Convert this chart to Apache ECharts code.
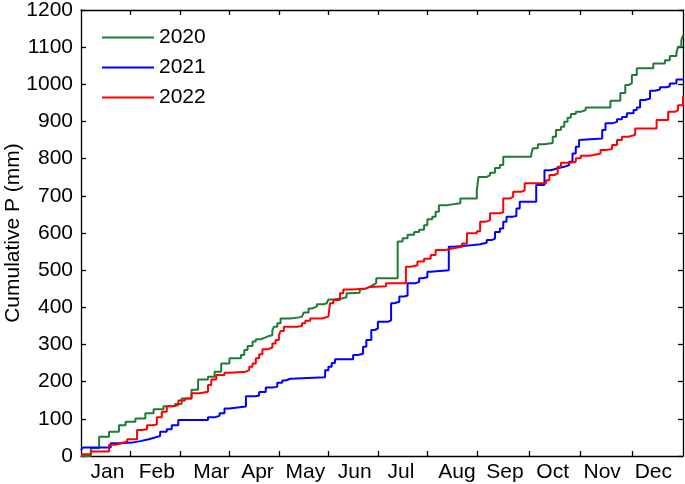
<!DOCTYPE html>
<html>
<head>
<meta charset="utf-8">
<script src="https://cdn.jsdelivr.net/npm/echarts@6/dist/echarts.min.js"></script>
<style>
  html, body { margin: 0; padding: 0; background: #fff; }
  #chart { width: 685px; height: 484px; }
</style>
</head>
<body>
<div id="chart"></div>
<script>
// cumulative precipitation, [day of year, mm]
var p2020 = [[0,0],[6,21],[11,52],[17,65],[23,83],[27,92],[33,101],[39,115],[44,126],[50,134],[57,140],[61,155],[67,178],[71,206],[77,213],[81,227],[85,249],[90,263],
  [97,272],[99,285],[101,296],[104,308],[106,314],[109,319],[112,323],[114,325],[116,337],[117,348],[119,357],[121,370],[127,373],[132,375],[134,379],[135,386],[138,397],[140,402],[143,408],[147,411],[149,413],[150,421],[153,424],[158,427],[161,438],[163,439],[169,447],[170,451],[173,455],[175,460],[177,465],[179,478],
  [192,577],[195,586],[198,595],[202,603],[205,609],[208,621],[210,637],[213,644],[215,657],[217,675],[222,680],[230,693],[240,716],[241,751],[246,756],[248,762],[251,775],[254,783],[256,805],
  [273,812],[274,828],[277,839],[281,842],[286,859],[288,877],[291,886],[293,899],[295,910],[297,920],[300,926],[303,931],[306,938],[321,956],[327,977],[330,998],[332,1003],[334,1025],[337,1043],[347,1056],[354,1065],[357,1076],[361,1085],[362,1101],[364,1119],[365,1132]];

var p2021 = [[0,16],[1,23],[18,34],[24,36],[31,40],[36,45],[41,50],[45,54],[48,65],[52,72],[55,83],[59,97],[77,104],[81,108],[84,115],[87,128],[90,133],
  [100,161],[106,163],[108,172],[112,184],[116,186],[119,197],[122,203],[124,208],[127,212],[148,231],[150,240],[152,250],[154,260],[165,272],[168,275],[171,294],[173,312],[176,339],[178,343],[180,361],
  [186,365],[188,411],[190,415],[193,429],[196,432],[198,465],[203,468],[205,478],[207,481],[210,496],[212,500],[223,563],[226,568],[238,570],[242,574],[246,581],[249,585],[251,603],[254,612],[256,630],[258,644],[262,646],[264,666],[266,684],
  [276,729],[281,769],[285,774],[289,778],[293,783],[296,792],[298,814],[300,832],[302,850],[303,854],[316,877],[318,895],[322,899],[325,906],[328,912],[331,922],[335,931],[337,938],[339,958],[342,962],[345,983],[348,986],[351,992],[355,995],[357,1002],[361,1013],[365,1014]];

var p2022 = [[0,5],[6,12],[17,30],[21,35],[25,39],[28,45],[34,70],[37,72],[40,83],[43,85],[46,104],[49,119],[52,134],[56,137],[59,149],[63,155],[67,169],[72,173],[77,191],[79,206],[82,218],[87,224],[90,227],
  [100,231],[102,240],[104,249],[106,263],[108,274],[110,287],[113,292],[116,303],[118,312],[120,325],[121,336],[123,348],[131,350],[134,357],[136,364],[139,370],[146,375],[150,378],[151,411],[153,420],[157,438],[159,448],[165,451],[173,455],[175,457],
  [185,465],[197,509],[200,513],[204,523],[208,531],[212,541],[215,554],[221,558],[225,563],[231,572],[234,599],[240,605],[242,630],[245,634],[248,653],[254,656],[256,693],[260,697],[262,711],[267,715],[269,734],
  [282,742],[284,756],[287,760],[289,778],[291,789],[296,792],[300,801],[303,808],[308,810],[311,814],[315,823],[318,826],[322,837],[325,850],[328,859],[332,864],[336,881],[349,904],[356,926],[360,930],[362,944],[365,967]];

var months = ['Jan','Feb','Mar','Apr','May','Jun','Jul','Aug','Sep','Oct','Nov','Dec'];
var monthLabelDays = [16,46,79,107,136,166,194,228,257,286,316,347];
var monthTickDays = [30,60,90,120,150,180,210,240,272,303,334];

var mychart = echarts.init(document.getElementById('chart'));
var axisCol = '#000';
var font = 'Liberation Sans';

function frameAxis(extra) {
  var a = {
    axisLine: { show: true, onZero: false, lineStyle: { color: axisCol, width: 1.3 } },
    axisTick: { show: true, inside: true, length: 5, lineStyle: { color: axisCol, width: 1.3 } },
    splitLine: { show: false }
  };
  for (var k in extra) {
    if (a[k]) { for (var j in extra[k]) a[k][j] = extra[k][j]; }
    else a[k] = extra[k];
  }
  return a;
}

var option = {
  animation: false,
  grid: { left: 81, right: 2, top: 10, bottom: 28, outerBoundsMode: 'none', containLabel: false },
  legend: {
    orient: 'vertical',
    left: 97, top: 22,
    icon: 'rect',
    itemWidth: 52, itemHeight: 2, itemGap: 9,
    textStyle: { fontFamily: font, fontSize: 21, color: '#000', lineHeight: 21 },
    data: ['2020','2021','2022']
  },
  xAxis: [
    frameAxis({
      type: 'value', min: 0, max: 365,
      axisTick: { customValues: monthTickDays },
      axisLabel: {
        customValues: monthLabelDays, margin: 6,
        fontFamily: font, fontSize: 21, color: '#000',
        formatter: function (v) { return months[monthLabelDays.indexOf(v)]; }
      }
    }),
    frameAxis({
      type: 'value', min: 0, max: 365, position: 'top',
      axisTick: { customValues: monthTickDays },
      axisLabel: { show: false }
    })
  ],
  yAxis: [
    frameAxis({
      type: 'value', min: 0, max: 1200, interval: 100,
      name: 'Cumulative P (mm)', nameLocation: 'middle', nameGap: 57, nameMoveOverlap: false,
      nameTextStyle: { fontFamily: font, fontSize: 21, color: '#000' },
      axisLabel: { fontFamily: font, fontSize: 21, color: '#000', margin: 8,
        formatter: function (v) { return String(v); } }
    }),
    frameAxis({
      type: 'value', min: 0, max: 1200, interval: 100, position: 'right',
      axisLabel: { show: false }
    })
  ],
  series: [
    { name: '2020', type: 'line', step: 'end', symbol: 'none', data: p2020,
      itemStyle: { color: '#1e7b34' }, lineStyle: { color: '#1e7b34', width: 2 } },
    { name: '2021', type: 'line', step: 'end', symbol: 'none', data: p2021,
      itemStyle: { color: '#0000ff' }, lineStyle: { color: '#0000ff', width: 2 } },
    { name: '2022', type: 'line', step: 'end', symbol: 'none', data: p2022,
      itemStyle: { color: '#ff0000' }, lineStyle: { color: '#ff0000', width: 2 } }
  ]
};
mychart.setOption(option);
</script>
</body>
</html>
